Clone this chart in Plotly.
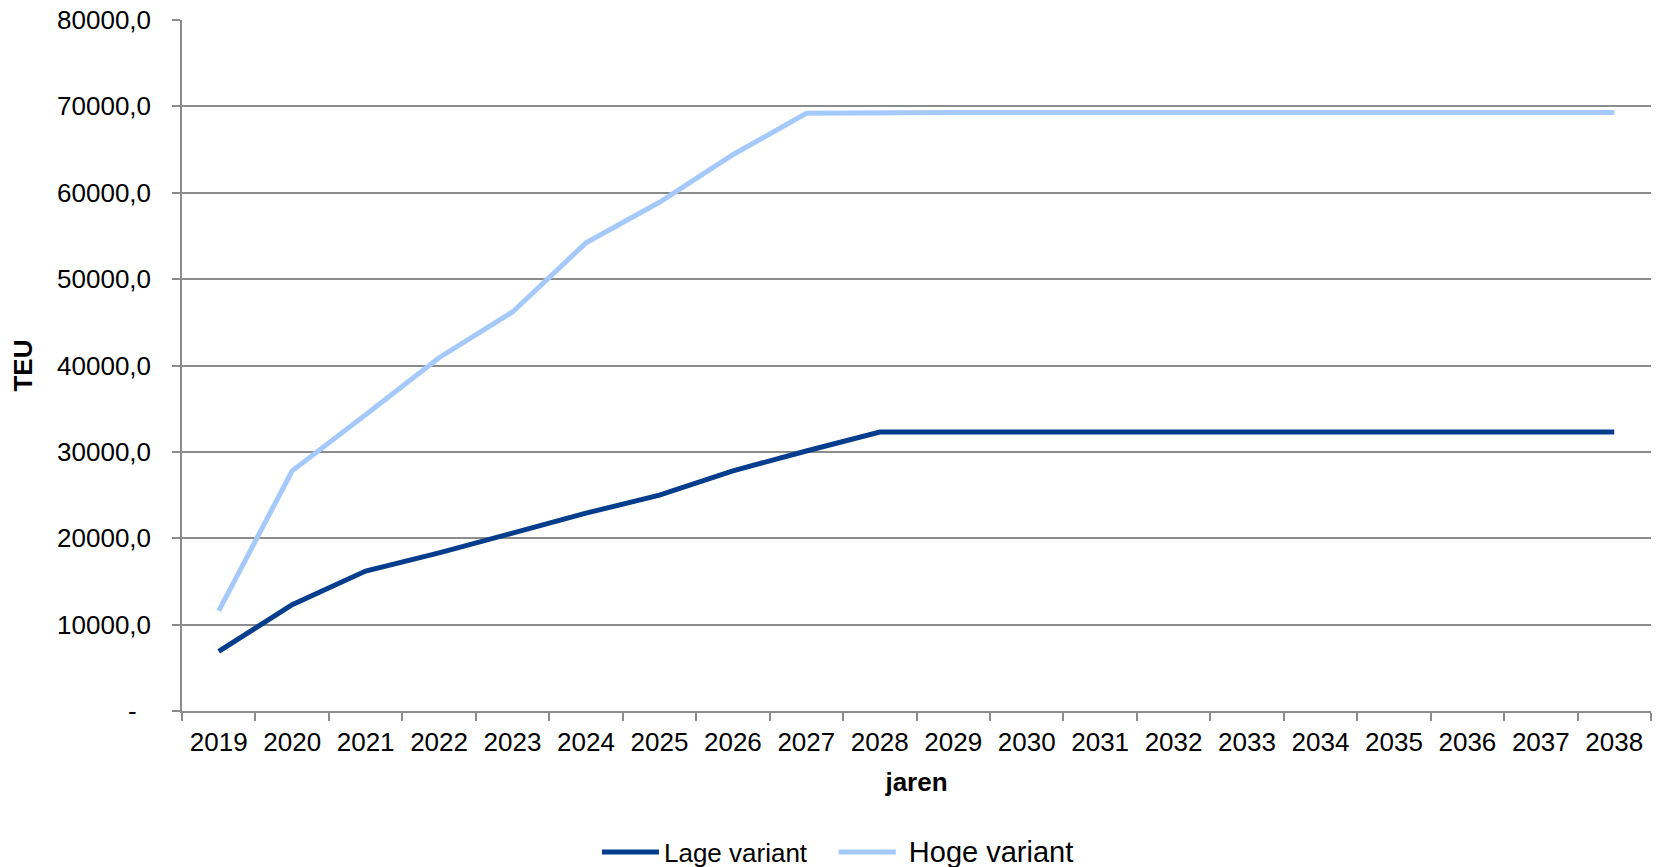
import plotly.graph_objects as go

# Jaarlijkse containeroverslag (TEU) per variant
jaren = [str(j) for j in range(2019, 2039)]
lage_variant = [6900, 12300, 16200, 18300, 20600, 22900, 25000, 27800, 30100, 32300,
                32300, 32300, 32300, 32300, 32300, 32300, 32300, 32300, 32300, 32300]
hoge_variant = [11600, 27800, 34300, 40900, 46200, 54200, 58900, 64400, 69200, 69300,
                69300, 69300, 69300, 69300, 69300, 69300, 69300, 69300, 69300, 69300]

y_ticks = [0, 10000, 20000, 30000, 40000, 50000, 60000, 70000, 80000]
y_ticktext = ["-\u00a0\u00a0"] + [f"{v},0" for v in y_ticks[1:]]

FONT = "Liberation Sans, Arial, sans-serif"
GRID = "#8c8c8c"

fig = go.Figure()
fig.add_trace(go.Scatter(
    x=jaren, y=lage_variant, mode="lines",
    name="Lage variant\u00a0\u00a0\u00a0",
    line=dict(color="#073d8d", width=5),
))
fig.add_trace(go.Scatter(
    x=jaren, y=hoge_variant, mode="lines",
    name="<span style='font-size:29px'>\u00a0Hoge variant</span>",
    line=dict(color="#a6c9fb", width=5),
))

fig.update_layout(
    width=1656, height=867,
    margin=dict(l=182, r=5, t=20, b=156, autoexpand=False),
    paper_bgcolor="white", plot_bgcolor="white",
    font=dict(family=FONT, size=26, color="black"),
    showlegend=True,
    legend=dict(
        orientation="h",
        xref="container", x=0.3605, xanchor="left",
        yref="container", y=0.0173, yanchor="middle",
        font=dict(size=26), itemwidth=57, tracegroupgap=0,
        bgcolor="rgba(0,0,0,0)",
    ),
)

fig.update_xaxes(
    type="category",
    range=[-0.5, len(jaren) - 0.5],
    automargin=False,
    showgrid=False,
    showline=True, linecolor=GRID, linewidth=1.5,
    ticks="outside", tickson="boundaries", ticklen=8, tickcolor=GRID, tickwidth=1.5,
    tickfont=dict(size=26), ticklabelstandoff=7,
    title=dict(text="<b>jaren</b>", font=dict(size=26), standoff=17),
)

fig.update_yaxes(
    range=[0, 80000],
    automargin=False,
    tickvals=y_ticks, ticktext=y_ticktext,
    showgrid=True, gridcolor=GRID, gridwidth=1.5,
    zeroline=False,
    showline=True, linecolor=GRID, linewidth=1.5,
    ticks="outside", ticklen=8, tickcolor=GRID, tickwidth=1.5,
    tickfont=dict(size=26), ticklabelstandoff=16,
    title=dict(text="<b>TEU</b>", font=dict(size=26), standoff=17),
)

fig.write_html("out.html")
